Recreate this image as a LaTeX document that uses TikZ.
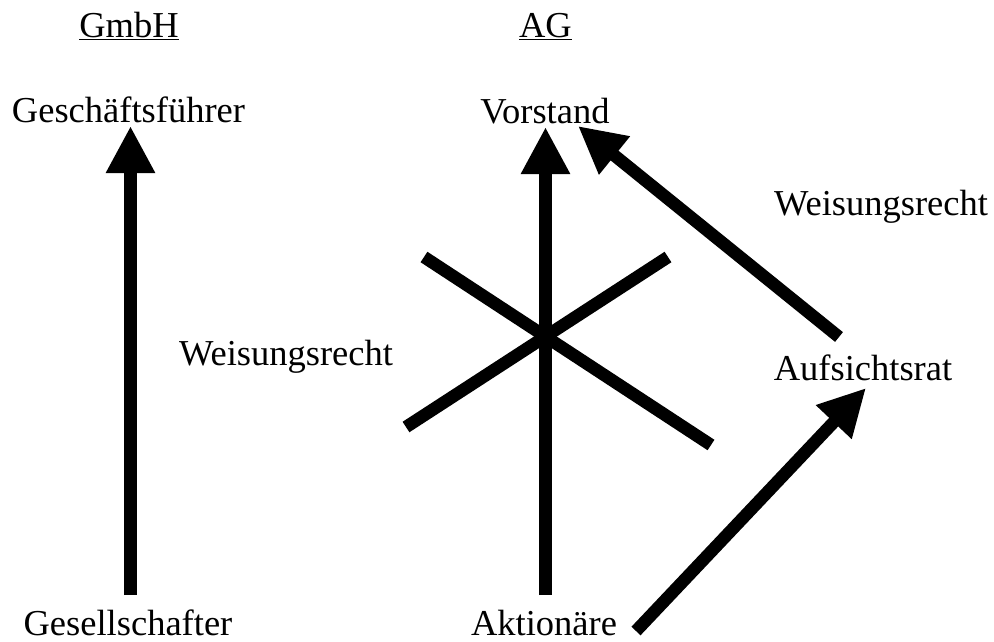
\documentclass[tikz,border=0pt]{standalone}
\usepackage{fontspec}
\setmainfont{Liberation Serif}
\usetikzlibrary{arrows.meta}
\tikzset{
  lbl/.style={anchor=base, inner sep=0pt, font=\fontsize{36.5}{44}\selectfont},
  arr/.style={line width=12.5pt, -{Triangle[width=46pt,length=47pt]}},
  bar/.style={line width=12.5pt}
}
\begin{document}
\begin{tikzpicture}[x=1pt,y=-1pt]
\useasboundingbox[fill=white] (0,0) rectangle (994,641);
% headings
\node[lbl] (gmbh) at (129,37) {\underline{GmbH}};
\node[lbl] (ag) at (545.5,37) {\underline{AG}};
% labels
\node[lbl] (gf) at (128.5,122) {Geschäftsführer};
\node[lbl] (vor) at (545,123) {Vorstand};
\node[lbl] (wr1) at (881,215) {Weisungsrecht};
\node[lbl] (wr2) at (286,365) {Weisungsrecht};
\node[lbl] (ar) at (863,380) {Aufsichtsrat};
\node[lbl] (ges) at (128,635) {Gesellschafter};
\node[lbl] (akt) at (544,635) {Aktionäre};
% connector end points
\coordinate (gesTop) at (130.5,595);
\coordinate (gfBot) at (130.5,126);
\coordinate (aktTop) at (545.5,595);
\coordinate (vorBot) at (545.5,127);
\coordinate (arTop) at (839,337);
\coordinate (vorRight) at (578,126);
\coordinate (aktRight) at (636,631);
\coordinate (arBot) at (866,388);
\coordinate (x1a) at (424,257);
\coordinate (x1b) at (711,445);
\coordinate (x2a) at (406,427);
\coordinate (x2b) at (668,257);
% arrows
\draw[arr] (gesTop) -- (gfBot);
\draw[arr] (aktTop) -- (vorBot);
\draw[arr] (arTop) -- (vorRight);
\draw[arr] (aktRight) -- (arBot);
% crossing out
\draw[bar] (x1a) -- (x1b);
\draw[bar] (x2a) -- (x2b);
\end{tikzpicture}
\end{document}
